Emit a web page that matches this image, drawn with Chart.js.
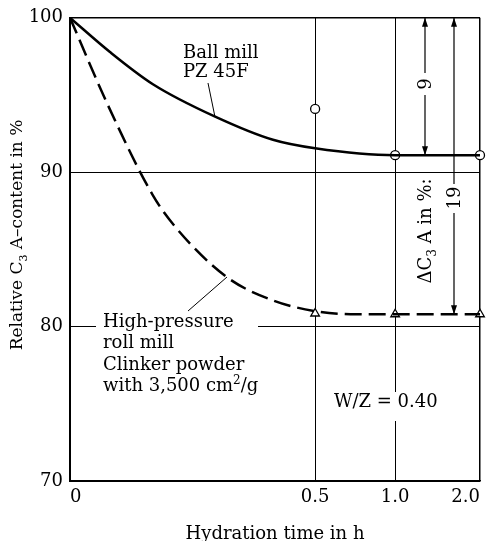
<!DOCTYPE html>
<html>
<head>
<meta charset="utf-8">
<script src="https://cdn.jsdelivr.net/npm/chart.js@4.4.1/dist/chart.umd.min.js"></script>
<style>
  html, body { margin: 0; padding: 0; background: #fff; }
  #wrap { width: 488px; height: 541px; }
</style>
</head>
<body>
<div id="wrap"><canvas id="myChart"></canvas></div>
<script>
// hydration time in h, relative C3A content in %
const xTicks = [0, 0.5, 1.0, 2.0];
const xTickLabels = ['0', '0.5', '1.0', '2.0'];
const yTicks = [70, 80, 90, 100];

const ballTime  = [0, 0.032, 0.08, 0.184, 0.337, 0.5, 1.0, 2.0];
const ballValue = [100, 97.8, 95.7, 93.6, 92.1, 91.55, 91.1, 91.1];
const rollTime  = [0, 0.03, 0.08, 0.111, 0.21, 0.337, 0.5, 0.72, 1.0, 2.0];
const rollValue = [100, 94.4, 88.5, 86.5, 83.2, 81.7, 81.0, 80.8, 80.8, 80.8];

const ballMarkTime  = [0.5, 1.0, 2.0];
const ballMarkValue = [94.1, 91.1, 91.1];
const rollMarkTime  = [0.5, 1.0, 2.0];
const rollMarkValue = [80.85, 80.8, 80.8];

// the time axis is drawn as log(t + shift)
const X_SHIFT = 0.09;
const FONT = 'DejaVu Serif';

const pts = (ts, vs) => ts.map((t, i) => ({ x: t + X_SHIFT, y: vs[i] }));

// text with sub / superscripts, centred or left aligned at (x, y)
function drawRich(ctx, parts, x, y, align, size) {
  const fontFor = p => (p.sub || p.sup ? Math.round(size * 0.65) : size) + 'px "' + FONT + '"';
  let w = 0;
  parts.forEach(p => { ctx.font = fontFor(p); w += ctx.measureText(p.text).width; });
  let cx = align === 'center' ? x - w / 2 : x;
  ctx.textAlign = 'left';
  ctx.textBaseline = 'alphabetic';
  parts.forEach(p => {
    ctx.font = fontFor(p);
    const dy = p.sub ? 5 : (p.sup ? -7 : 0);
    ctx.fillText(p.text, cx, y + dy);
    cx += ctx.measureText(p.text).width;
  });
}

function arrowHead(ctx, x, y, dir) {
  ctx.beginPath();
  ctx.moveTo(x, y);
  ctx.lineTo(x - 3, y - dir * 9);
  ctx.lineTo(x + 3, y - dir * 9);
  ctx.closePath();
  ctx.fill();
}

const annotate = {
  id: 'annotate',
  afterDatasetsDraw(chart) {
    const { ctx, scales: { y } } = chart;
    ctx.save();
    ctx.fillStyle = '#000';
    ctx.strokeStyle = '#000';

    // dimension arrows
    const a9 = 425, a19 = 454;
    const top = y.getPixelForValue(100);
    const b9 = y.getPixelForValue(ballMarkValue[2]);
    const b19 = y.getPixelForValue(rollMarkValue[2]);
    ctx.lineWidth = 1.2;
    ctx.beginPath();
    ctx.moveTo(a9, top); ctx.lineTo(a9, b9);
    ctx.moveTo(a19, top); ctx.lineTo(a19, b19);
    ctx.stroke();
    arrowHead(ctx, a9, top, -1);
    arrowHead(ctx, a9, b9, 1);
    arrowHead(ctx, a19, top, -1);
    arrowHead(ctx, a19, b19, 1);

    // leader lines
    ctx.lineWidth = 1;
    ctx.beginPath();
    ctx.moveTo(208, 83); ctx.lineTo(215, 117);
    ctx.moveTo(188, 311); ctx.lineTo(227, 277);
    ctx.stroke();

    // white label backgrounds
    ctx.fillStyle = '#fff';
    ctx.fillRect(96, 312, 162, 84);
    ctx.fillRect(330, 392, 115, 29);
    ctx.fillRect(418, 73, 14, 22);
    ctx.fillRect(447, 184, 14, 29);
    ctx.fillStyle = '#000';

    ctx.font = '18px "' + FONT + '"';
    ctx.textAlign = 'left';
    ctx.textBaseline = 'alphabetic';
    ctx.fillText('Ball mill', 183, 58);
    ctx.fillText('PZ 45F', 183, 77);
    ctx.fillText('High-pressure', 103, 327);
    ctx.fillText('roll mill', 103, 348);
    ctx.fillText('Clinker powder', 103, 370);
    drawRich(ctx, [{ text: 'with 3,500 cm' }, { text: '2', sup: true }, { text: '/g' }], 103, 391, 'left', 18);
    ctx.fillText('W/Z = 0.40', 334, 407);

    // rotated labels
    const rot = (cx, cy, fn) => {
      ctx.save();
      ctx.translate(cx, cy);
      ctx.rotate(-Math.PI / 2);
      fn();
      ctx.restore();
    };
    rot(431, 84, () => drawRich(ctx, [{ text: '9' }], 0, 0, 'center', 18));
    rot(460, 198, () => drawRich(ctx, [{ text: '19' }], 0, 0, 'center', 18));
    rot(431, 231, () => drawRich(ctx, [{ text: 'ΔC' }, { text: '3', sub: true }, { text: ' A in %:' }], 0, 0, 'center', 18));
    rot(22, 235, () => drawRich(ctx, [{ text: 'Relative C' }, { text: '3', sub: true }, { text: ' A–content in %' }], 0, 0, 'center', 17));
    ctx.restore();
  }
};

const ctx = document.getElementById('myChart').getContext('2d');
const myChart = new Chart(ctx, {
  type: 'line',
  data: {
    datasets: [{
      label: 'Ball mill PZ 45F',
      data: pts(ballTime, ballValue),
      borderColor: '#000',
      borderWidth: 2.5,
      pointRadius: 0,
      cubicInterpolationMode: 'monotone'
    }, {
      label: 'High-pressure roll mill',
      data: pts(rollTime, rollValue),
      borderColor: '#000',
      borderWidth: 2.5,
      borderDash: [17, 7],
      pointRadius: 0,
      cubicInterpolationMode: 'monotone'
    }, {
      label: 'Ball mill measured',
      data: pts(ballMarkTime, ballMarkValue),
      showLine: false,
      clip: false,
      pointStyle: 'circle',
      pointRadius: 4.5,
      pointBackgroundColor: '#fff',
      pointBorderColor: '#000',
      pointBorderWidth: 1.3
    }, {
      label: 'Roll mill measured',
      data: pts(rollMarkTime, rollMarkValue),
      showLine: false,
      clip: false,
      pointStyle: 'triangle',
      pointRadius: 5,
      pointBackgroundColor: '#fff',
      pointBorderColor: '#000',
      pointBorderWidth: 1.3
    }]
  },
  options: {
    responsive: true,
    maintainAspectRatio: false,
    animation: false,
    layout: { padding: { top: 16, right: 8, left: 0, bottom: 0 } },
    plugins: {
      legend: { display: false },
      tooltip: { enabled: false }
    },
    scales: {
      x: {
        type: 'logarithmic',
        min: xTicks[0] + X_SHIFT,
        max: xTicks[xTicks.length - 1] + X_SHIFT,
        afterBuildTicks: s => { s.ticks = xTicks.map(t => ({ value: t + X_SHIFT })); },
        afterFit: s => { s.height = 60; },
        grid: {
          color: '#000',
          lineWidth: c => (c.index === xTicks.length - 1 ? 1.5 : 1),
          drawTicks: false
        },
        border: { color: '#000', width: 1.5 },
        ticks: {
          autoSkip: false,
          maxRotation: 0,
          align: 'inner',
          padding: 6,
          color: '#000',
          font: { family: FONT, size: 18 },
          callback: (v, i) => xTickLabels[i]
        },
        title: {
          display: true,
          text: 'Hydration time in h',
          color: '#000',
          padding: 0,
          font: { family: FONT, size: 18, lineHeight: 0.7 }
        }
      },
      y: {
        min: yTicks[0],
        max: yTicks[yTicks.length - 1],
        afterBuildTicks: s => { s.ticks = yTicks.map(v => ({ value: v })); },
        afterFit: s => { s.width = 70; },
        grid: {
          color: '#000',
          lineWidth: c => (c.index === yTicks.length - 1 ? 1.5 : 1),
          drawTicks: false
        },
        border: { color: '#000', width: 2 },
        ticks: {
          padding: 7,
          color: '#000',
          font: { family: FONT, size: 18 }
        }
      }
    }
  },
  plugins: [annotate]
});
</script>
</body>
</html>
